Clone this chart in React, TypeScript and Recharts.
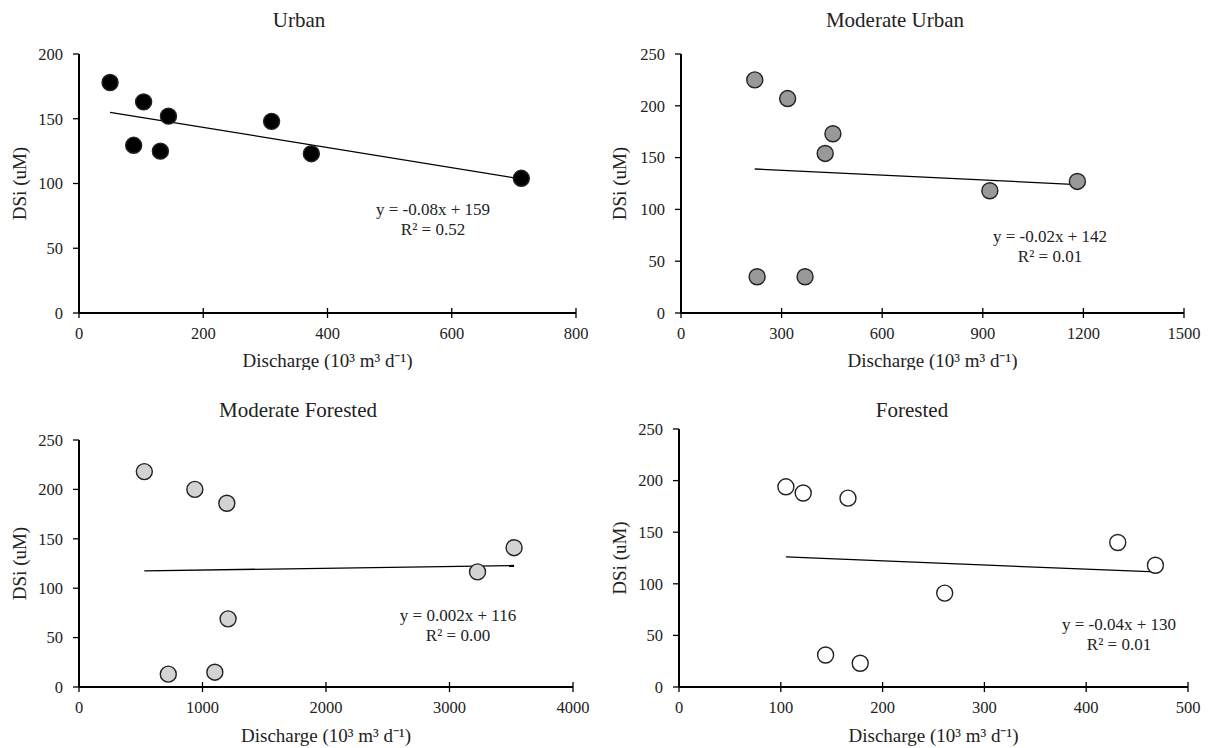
import { ScatterChart, Scatter, XAxis, YAxis, ReferenceLine, Label } from 'recharts';

// values, discharge (10^3 m3/d) vs DSi (uM)
const urbanX = [50, 104, 144, 88, 131, 310, 374, 712];
const urbanY = [178, 163, 152, 129.5, 125, 148, 123, 104];
const urbanTrend = [[50, 155], [712, 103.5]];

const modUrbanX = [220, 318, 453, 430, 921, 1182, 227, 370];
const modUrbanY = [225, 207, 173, 154, 118, 127, 35, 35];
const modUrbanTrend = [[220, 139], [1182, 124]];

const modForX = [529, 938, 1197, 3227, 3523, 1207, 723, 1100];
const modForY = [218, 200, 186, 116.5, 141, 69, 13, 15];
const modForTrend = [[529, 117.5], [3523, 123]];

const forX = [105, 122, 166, 431, 468, 261, 144, 178];
const forY = [194, 188, 183, 140, 118, 91, 31, 23];
const forTrend = [[105, 126], [468, 111.5]];

const urbanXTicks = [0, 200, 400, 600, 800];
const modUrbanXTicks = [0, 300, 600, 900, 1200, 1500];
const modForXTicks = [0, 1000, 2000, 3000, 4000];
const forXTicks = [0, 100, 200, 300, 400, 500];
const urbanYTicks = [0, 50, 100, 150, 200];
const yTicks250 = [0, 50, 100, 150, 200, 250];

const FONT = '"Liberation Serif", "Times New Roman", serif';
const TICK_SIZE = 5;
const TICK_MARGIN = 9;
const X_LABEL = 'Discharge (10³ m³ d⁻¹)';

const toPoints = (xs: number[], ys: number[]) => xs.map((x, i) => ({ x, y: ys[i] }));

function XTick({ x, y, payload }: any) {
  const axisY = y - TICK_SIZE - TICK_MARGIN;
  return (
    <g>
      <line x1={x} x2={x} y1={axisY - 5} y2={axisY + 5} stroke="#000" strokeWidth={1.3} />
      <text x={x} y={y} dy="0.71em" textAnchor="middle" fill="#222" fontSize={16.5} fontFamily={FONT}>
        {payload.value}
      </text>
    </g>
  );
}

interface PanelProps {
  left: number; top: number; width: number; height: number;
  plot: { l: number; t: number; r: number; b: number };
  xs: number[]; ys: number[]; trend: number[][];
  xTicks: number[]; yTicks: number[];
  fill: string;
  title: string; titleX: number; titleY: number;
  eq: string; r2: string; eqX: number; eqY: number;
  xLabelOffset: number;
}

function Panel(p: PanelProps) {
  const data = toPoints(p.xs, p.ys);
  const yAxisW = p.plot.l - p.left;
  const xAxisH = p.top + p.height - p.plot.b;
  const xMax = p.xTicks[p.xTicks.length - 1];
  const yMax = p.yTicks[p.yTicks.length - 1];
  return (
    <>
      <div style={{ position: 'absolute', left: p.left, top: p.top }}>
        <ScatterChart width={p.width} height={p.height}
          margin={{ top: p.plot.t - p.top, right: p.left + p.width - p.plot.r, bottom: 0, left: 0 }}>
          <XAxis type="number" dataKey="x" domain={[0, xMax]} ticks={p.xTicks} height={xAxisH}
            axisLine={{ stroke: '#000', strokeWidth: 2 }} tickLine={false}
            tickSize={TICK_SIZE} tickMargin={TICK_MARGIN} tick={<XTick />} interval={0}>
            <Label value={X_LABEL} position="insideBottom" offset={p.xLabelOffset}
              fill="#222" fontSize={19} fontFamily={FONT} />
          </XAxis>
          <YAxis type="number" dataKey="y" domain={[0, yMax]} ticks={p.yTicks} width={yAxisW}
            axisLine={{ stroke: '#000', strokeWidth: 2 }} tickLine={{ stroke: '#000', strokeWidth: 1.3 }}
            tickSize={6} tickMargin={10} interval={0}
            tick={{ fill: '#222', fontSize: 16.5, fontFamily: FONT }}>
            <Label value="DSi (uM)" angle={-90} position="insideLeft" offset={19}
              style={{ textAnchor: 'middle' }} fill="#222" fontSize={19} fontFamily={FONT} />
          </YAxis>
          <ReferenceLine segment={[{ x: p.trend[0][0], y: p.trend[0][1] }, { x: p.trend[1][0], y: p.trend[1][1] }]}
            stroke="#000" strokeWidth={1.3} />
          <Scatter data={data} isAnimationActive={false}
            shape={(s: any) => <circle cx={s.cx} cy={s.cy} r={8} fill={p.fill} stroke="#222" strokeWidth={1.4} />} />
        </ScatterChart>
      </div>
      <div style={{
        position: 'absolute', left: p.titleX - 150, top: p.titleY - 13, width: 300, textAlign: 'center',
        fontFamily: FONT, fontSize: 21, lineHeight: '26px', color: '#222',
      }}>{p.title}</div>
      <div style={{
        position: 'absolute', left: p.eqX - 100, top: p.eqY - 10, width: 200, textAlign: 'center',
        fontFamily: FONT, fontSize: 17, lineHeight: '20px', color: '#222',
      }}>
        <div>{p.eq}</div>
        <div>{p.r2}</div>
      </div>
    </>
  );
}

export default function App() {
  return (
    <div style={{ position: 'absolute', left: 0, top: 0, width: 1213, height: 748, background: '#fff', overflow: 'hidden' }}>
      <Panel left={0} top={0} width={600} height={370} plot={{ l: 79, t: 54, r: 576, b: 313 }}
        xs={urbanX} ys={urbanY} trend={urbanTrend} xTicks={urbanXTicks} yTicks={urbanYTicks}
        fill="#000" title="Urban" titleX={299} titleY={20}
        eq="y = -0.08x + 159" r2="R² = 0.52" eqX={433} eqY={210} xLabelOffset={3.5} />
      <Panel left={600} top={0} width={613} height={370} plot={{ l: 681, t: 54, r: 1184, b: 313 }}
        xs={modUrbanX} ys={modUrbanY} trend={modUrbanTrend} xTicks={modUrbanXTicks} yTicks={yTicks250}
        fill="#999999" title="Moderate Urban" titleX={895} titleY={20}
        eq="y = -0.02x + 142" r2="R² = 0.01" eqX={1050} eqY={237} xLabelOffset={3.5} />
      <Panel left={0} top={370} width={600} height={378} plot={{ l: 79, t: 440, r: 573, b: 687 }}
        xs={modForX} ys={modForY} trend={modForTrend} xTicks={modForXTicks} yTicks={yTicks250}
        fill="#d3d3d3" title="Moderate Forested" titleX={298} titleY={410}
        eq="y = 0.002x + 116" r2="R² = 0.00" eqX={458} eqY={616} xLabelOffset={6.5} />
      <Panel left={600} top={370} width={613} height={378} plot={{ l: 679, t: 429, r: 1188, b: 687 }}
        xs={forX} ys={forY} trend={forTrend} xTicks={forXTicks} yTicks={yTicks250}
        fill="#ffffff" title="Forested" titleX={912} titleY={410}
        eq="y = -0.04x + 130" r2="R² = 0.01" eqX={1119} eqY={625} xLabelOffset={6.5} />
    </div>
  );
}
